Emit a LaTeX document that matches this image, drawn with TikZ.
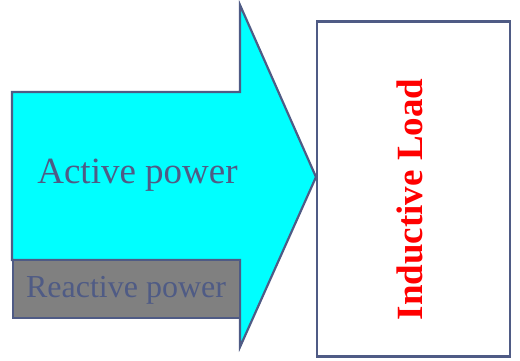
\documentclass[tikz,border=0pt]{standalone}
\usepackage{fontspec}
\setmainfont{Liberation Serif}
\definecolor{edge}{HTML}{4F5B85}
\definecolor{arrowfill}{HTML}{00FFFF}
\definecolor{reactfill}{HTML}{808080}
\tikzset{
    outline/.style={draw=edge,line width=2.2pt,line join=miter},
    powertext/.style={text=edge,inner sep=0pt,anchor=base},
}
\begin{document}
\begin{tikzpicture}[x=1pt,y=-1pt]
    \useasboundingbox (0,0) rectangle (520,361);

    % Power arrow
    \draw[outline,fill=arrowfill] (12,92) -- (240,92) -- (240,5) -- (316,177)
        -- (240,347) -- (240,260) -- (12,260) -- cycle;

    % Reactive part
    \draw[outline,fill=reactfill] (13,260) rectangle (240,318);

    % Labels
    \node[powertext,font=\fontsize{37}{44}\selectfont] (active) at (137.5,183) {Active power};
    \node[powertext,font=\fontsize{32}{38}\selectfont] (reactive) at (126,297) {Reactive power};

    % Load
    \node[outline,minimum width=193pt,minimum height=335pt,inner sep=0pt] (load) at (413.5,189) {};
    \node[text=red,inner sep=0pt,anchor=base,rotate=90,
        font=\fontsize{37}{44}\selectfont\bfseries] (loadtext) at (422,199.5) {Inductive Load};
\end{tikzpicture}
\end{document}
